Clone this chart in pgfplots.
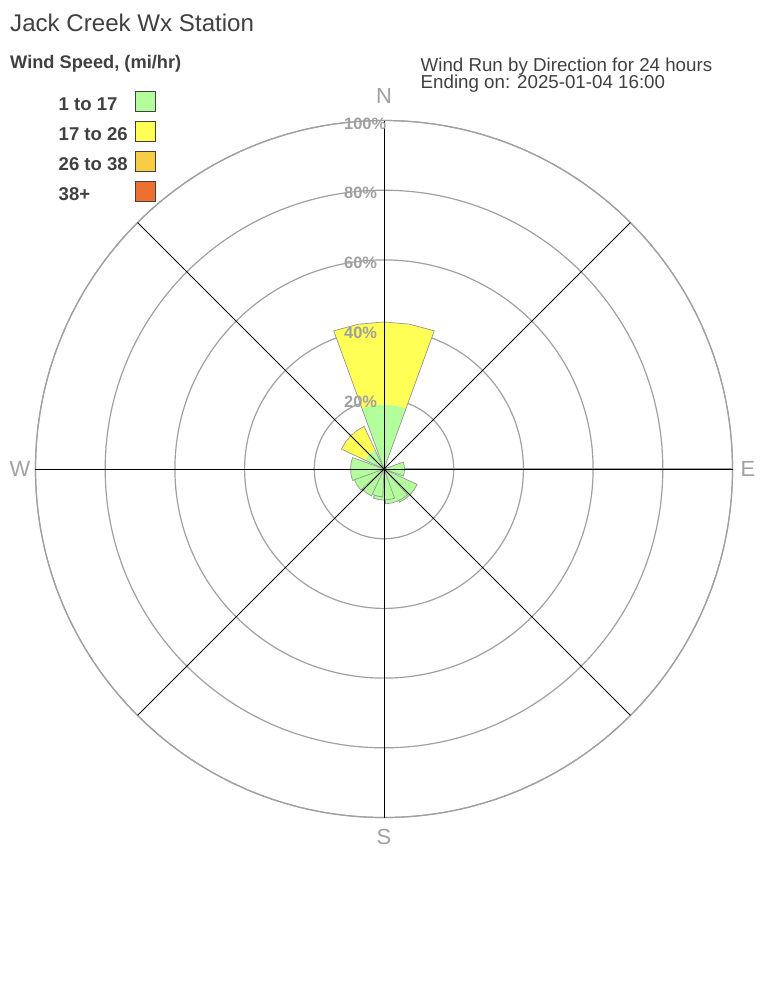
\documentclass[border=0pt]{standalone}
\usepackage{fontspec}
\setmainfont{Liberation Sans}
\usepackage{pgfplots}
\pgfplotsset{compat=1.18}
\usepgfplotslibrary{polar}

\definecolor{txt}{RGB}{64,64,64}
\definecolor{ring}{RGB}{160,160,160}
\definecolor{lab}{RGB}{160,160,160}
\definecolor{edge}{RGB}{150,150,150}
\definecolor{c1}{RGB}{178,255,155}
\definecolor{c2}{RGB}{255,255,85}
\definecolor{c3}{RGB}{248,204,68}
\definecolor{c4}{RGB}{238,112,48}

\begin{document}
\begin{tikzpicture}[x=1bp,y=1bp]
\path[use as bounding box] (0,0) rectangle (768,-1008);

\begin{polaraxis}[
  at={(384bp,-469bp)}, anchor=center,
  width=697bp, height=697bp, scale only axis,
  ymin=0, ymax=100,
  xtick={0,90,180,270}, xticklabels={},
  ytick={20,40,60,80,100}, yticklabels={},
  major tick length=0pt, minor tick length=0pt,
  ymajorgrids=true, xmajorgrids=false,
  major y grid style={ring, line width=1.2bp},
  axis line style={ring, line width=1.2bp},
  clip=false,
  sec/.style={draw=edge, line width=0.7bp},
]
% angle = 90 - compass bearing, radius = percent of wind run
% N : 1-17 then 17-26
\addplot[fill=c1, draw=none] coordinates {(90,0) (70,18.5) (80,18.5) (90,18.5) (100,18.5) (110,18.5)} -- cycle;
\addplot[fill=c2, draw=none] coordinates {(70,18.5) (70,42.2) (80,42.2) (90,42.2) (100,42.2) (110,42.2) (110,18.5) (100,18.5) (90,18.5) (80,18.5)} -- cycle;
\addplot[sec, fill=none] coordinates {(90,0) (70,42.2) (80,42.2) (90,42.2) (100,42.2) (110,42.2)} -- cycle;
% E
\addplot[sec, fill=c1] coordinates {(0,0) (-20,5.9) (-10,5.9) (0,5.9) (10,5.9) (20,5.9)} -- cycle;
% SE
\addplot[sec, fill=c1] coordinates {(315,0) (295,10.5) (305,10.5) (315,10.5) (325,10.5) (335,10.5)} -- cycle;
% SSE
\addplot[sec, fill=c1] coordinates {(292.5,0) (272.5,10.0) (282.5,10.0) (292.5,10.0) (302.5,10.0) (312.5,10.0)} -- cycle;
% S
\addplot[sec, fill=c1] coordinates {(270,0) (250,8.9) (260,8.9) (270,8.9) (280,8.9) (290,8.9)} -- cycle;
% SSW
\addplot[sec, fill=c1] coordinates {(247.5,0) (227.5,8.0) (237.5,8.0) (247.5,8.0) (257.5,8.0) (267.5,8.0)} -- cycle;
% SW
\addplot[sec, fill=c1] coordinates {(225,0) (205,8.5) (215,8.5) (225,8.5) (235,8.5) (245,8.5)} -- cycle;
% WSW
\addplot[sec, fill=c1] coordinates {(202.5,0) (182.5,9.0) (192.5,9.0) (202.5,9.0) (212.5,9.0) (222.5,9.0)} -- cycle;
% W
\addplot[sec, fill=c1] coordinates {(180,0) (160,9.6) (170,9.6) (180,9.6) (190,9.6) (200,9.6)} -- cycle;
% NW : 1-17 then 17-26
\addplot[fill=c1, draw=none] coordinates {(135,0) (115,6.0) (125,6.0) (135,6.0) (145,6.0) (155,6.0)} -- cycle;
\addplot[fill=c2, draw=none] coordinates {(115,6.0) (115,13.5) (125,13.5) (135,13.5) (145,13.5) (155,13.5) (155,6.0) (145,6.0) (135,6.0) (125,6.0)} -- cycle;
\addplot[sec, fill=none] coordinates {(135,0) (115,13.5) (125,13.5) (135,13.5) (145,13.5) (155,13.5)} -- cycle;

% spokes
\addplot[black, line width=0.8bp] coordinates {(90,100) (270,100)};
\addplot[black, line width=0.8bp] coordinates {(0,100) (180,100)};
\addplot[black, line width=0.8bp] coordinates {(45,100) (225,100)};
\addplot[black, line width=0.8bp] coordinates {(135,100) (315,100)};
\end{polaraxis}

% ring labels
\begin{scope}[every node/.style={anchor=west, inner sep=0, text=lab, font=\bfseries\fontsize{16.5}{18}\selectfont}]
\node at (344,-402) {20\%};
\node at (344,-333) {40\%};
\node at (344,-263) {60\%};
\node at (344,-193) {80\%};
\node at (344,-124) {100\%};
\end{scope}

% compass labels
\begin{scope}[every node/.style={anchor=center, inner sep=0, text=lab, font=\fontsize{22}{24}\selectfont}]
\node at (384,-96) {N};
\node at (748,-469) {E};
\node at (384,-837) {S};
\node at (20,-469) {W};
\end{scope}

% titles
\node[anchor=base west, inner sep=0, text=txt, font=\fontsize{24.2}{28}\selectfont] at (10,-31.5) {Jack Creek Wx Station};
\node[anchor=base west, inner sep=0, text=txt, font=\bfseries\fontsize{18.3}{22}\selectfont] at (10,-68.5) {Wind Speed, (mi/hr)};
\node[anchor=base west, inner sep=0, text=txt, font=\fontsize{18.8}{22}\selectfont] at (420.5,-71) {Wind Run by Direction for 24 hours};
\node[anchor=base west, inner sep=0, text=txt, font=\fontsize{18.8}{22}\selectfont] at (420.5,-88.3) {Ending on: 2025-01-04 16:00};

% legend
\begin{scope}[every node/.style={anchor=base west, inner sep=0, text=txt, font=\bfseries\fontsize{18.6}{22}\selectfont}]
\node at (58.5,-110) {1 to 17};
\node at (58.5,-140) {17 to 26};
\node at (58.5,-170) {26 to 38};
\node at (58.5,-200) {38+};
\end{scope}
\draw[fill=c1, draw=txt, line width=1bp] (135.5,-91) rectangle (155.5,-111);
\draw[fill=c2, draw=txt, line width=1bp] (135.5,-121) rectangle (155.5,-141);
\draw[fill=c3, draw=txt, line width=1bp] (135.5,-151) rectangle (155.5,-171);
\draw[fill=c4, draw=txt, line width=1bp] (135.5,-181) rectangle (155.5,-201);
\end{tikzpicture}
\end{document}
